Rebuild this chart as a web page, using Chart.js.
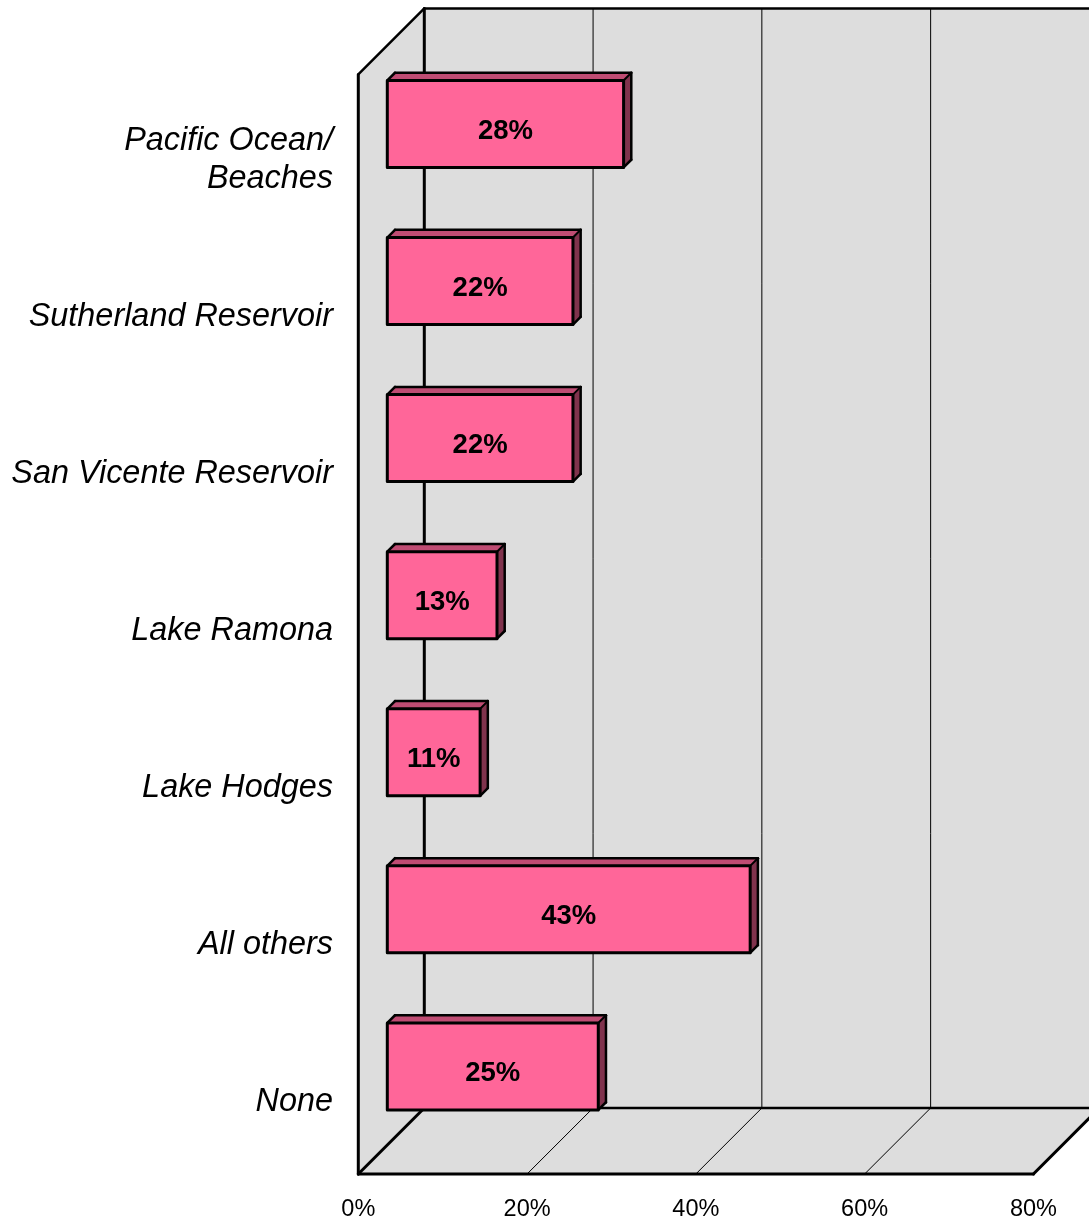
<!DOCTYPE html>
<html><head><meta charset="utf-8">
<style>html,body{margin:0;padding:0;background:#fff}canvas{display:block}</style>
<script src="https://cdn.jsdelivr.net/npm/chart.js@4"></script>
</head><body>
<div style="width:1089px;height:1222px"><canvas id="c"></canvas></div>
<script>
const categories = [["Pacific Ocean/","Beaches"],"Sutherland Reservoir","San Vicente Reservoir","Lake Ramona","Lake Hodges","All others","None"];
const values = [28,22,22,13,11,43,25];
const tickValues = [0,20,40,60,80];

const FONT = '"Liberation Sans", Arial, sans-serif';
const FACE='#FF6699', TOP='#BF4C73', SIDE='#80334D', WALL='#DDDDDD';
const AREA = {left:387.3, right:1089, top:45.4, bottom:1145}; // plot area of the bar faces
const BAR_FRONT = 29;   // gap from the front plane of the box to the bar's face
const BOX_DEPTH = 66;   // full depth of the box
const BAR_DEPTH = 7.7;  // depth of one bar

function poly(ctx, pts, fill, stroke, lw){
  ctx.beginPath();
  pts.forEach((p,i)=> i?ctx.lineTo(p[0],p[1]):ctx.moveTo(p[0],p[1]));
  ctx.closePath();
  if(fill){ctx.fillStyle=fill;ctx.fill();}
  if(stroke){ctx.strokeStyle=stroke;ctx.lineWidth=lw;ctx.lineJoin='round';ctx.stroke();}
}
function line(ctx,x1,y1,x2,y2,lw){
  ctx.beginPath();ctx.moveTo(x1,y1);ctx.lineTo(x2,y2);
  ctx.strokeStyle='#000';ctx.lineWidth=lw;ctx.lineCap='round';ctx.stroke();
}

const box3d = {
  id:'box3d',
  afterLayout(chart){
    const {x,y} = chart.scales, H=chart.height;
    Object.assign(chart.chartArea,AREA,{width:AREA.right-AREA.left,height:AREA.bottom-AREA.top});
    Object.assign(x,{left:AREA.left,right:AREA.right,width:AREA.right-AREA.left,top:AREA.bottom,bottom:H,height:H-AREA.bottom});
    Object.assign(y,{left:0,right:AREA.left,width:AREA.left,top:AREA.top,bottom:AREA.bottom,height:AREA.bottom-AREA.top});
    x.configure(); y.configure();
  },
  beforeDatasetsDraw(chart){
    const {ctx,scales:{x,y}} = chart;
    const x0 = x.getPixelForValue(0)-BAR_FRONT;
    const xEnd = x.getPixelForValue(80)-BAR_FRONT;
    const yTopF = y.top+BAR_FRONT, yBotF = y.bottom+BAR_FRONT;
    const d = BOX_DEPTH;
    ctx.save();
    poly(ctx,[[x0,yTopF],[x0+d,yTopF-d],[x0+d,yBotF-d],[x0,yBotF]],WALL);
    poly(ctx,[[x0+d,yTopF-d],[xEnd+d,yTopF-d],[xEnd+d,yBotF-d],[x0+d,yBotF-d]],WALL);
    poly(ctx,[[x0,yBotF],[x0+d,yBotF-d],[xEnd+d,yBotF-d],[xEnd,yBotF]],WALL);
    tickValues.slice(1).forEach(v=>{
      const px = x.getPixelForValue(v)-BAR_FRONT;
      line(ctx,px+d,yTopF-d,px+d,yBotF-d,1);
      line(ctx,px,yBotF,px+d,yBotF-d,1);
    });
    line(ctx,x0+d,yTopF-d,xEnd+d,yTopF-d,2.5);
    line(ctx,x0+d,yBotF-d,xEnd+d,yBotF-d,2.5);
    line(ctx,x0+d,yTopF-d,x0+d,yBotF-d,3);
    line(ctx,x0,yTopF,x0+d,yTopF-d,2.5);
    line(ctx,x0,yTopF,x0,yBotF,3);
    line(ctx,x0,yBotF,xEnd,yBotF,3);
    line(ctx,x0,yBotF,x0+d,yBotF-d,3);
    line(ctx,xEnd,yBotF,xEnd+d,yBotF-d,3);
    chart.getDatasetMeta(0).data.forEach(b=>{
      const t=b.y-b.height/2, bt=b.y+b.height/2, l=b.base, r=b.x, k=BAR_DEPTH;
      poly(ctx,[[l,t],[l+k,t-k],[r+k,t-k],[r,t]],TOP);
      poly(ctx,[[r,t],[r+k,t-k],[r+k,bt-k],[r,bt]],SIDE);
      line(ctx,l,t,l+k,t-k,2.5);
      line(ctx,l+k,t-k,r+k,t-k,2.5);
      line(ctx,r+k,t-k,r+k,bt-k,2.5);
      line(ctx,r,bt,r+k,bt-k,2.5);
      line(ctx,r,t,r+k,t-k,2);
    });
    ctx.restore();
  },
  afterDatasetsDraw(chart){
    const {ctx} = chart;
    ctx.save();
    chart.getDatasetMeta(0).data.forEach((b,i)=>{
      const t=b.y-b.height/2, l=b.base;
      ctx.strokeStyle='#000';ctx.lineWidth=3;ctx.lineJoin='round';
      ctx.strokeRect(l,t,b.x-l,b.height);
      ctx.font = 'bold 27.5px '+FONT;
      ctx.fillStyle='#000';ctx.textAlign='center';ctx.textBaseline='middle';
      ctx.fillText(values[i]+'%',(b.x+l)/2,b.y+7);
    });
    ctx.restore();
  }
};

new Chart(document.getElementById('c'),{
  type:'bar',
  data:{labels:categories,datasets:[{data:values,backgroundColor:FACE,borderWidth:0,barThickness:87}]},
  plugins:[box3d],
  options:{
    indexAxis:'y',responsive:true,maintainAspectRatio:false,animation:false,
    layout:{padding:0,autoPadding:false},
    plugins:{legend:{display:false},tooltip:{enabled:false}},
    scales:{
      x:{min:0,max:83.15,border:{display:false},grid:{display:false,drawTicks:false},
         afterBuildTicks(s){s.ticks=tickValues.map(v=>({value:v}));},
         ticks:{autoSkip:false,maxRotation:0,minRotation:0,callback:v=>v+'%',padding:50,labelOffset:-BAR_FRONT,
                color:'#000',font:{family:FONT,size:23.5}}},
      y:{border:{display:false},grid:{display:false,drawTicks:false},
         ticks:{autoSkip:false,padding:54.3,labelOffset:36,color:'#000',
                font:{family:FONT,size:32.4,style:'italic',lineHeight:1.2}}}
    }
  }
});
</script>
</body></html>
